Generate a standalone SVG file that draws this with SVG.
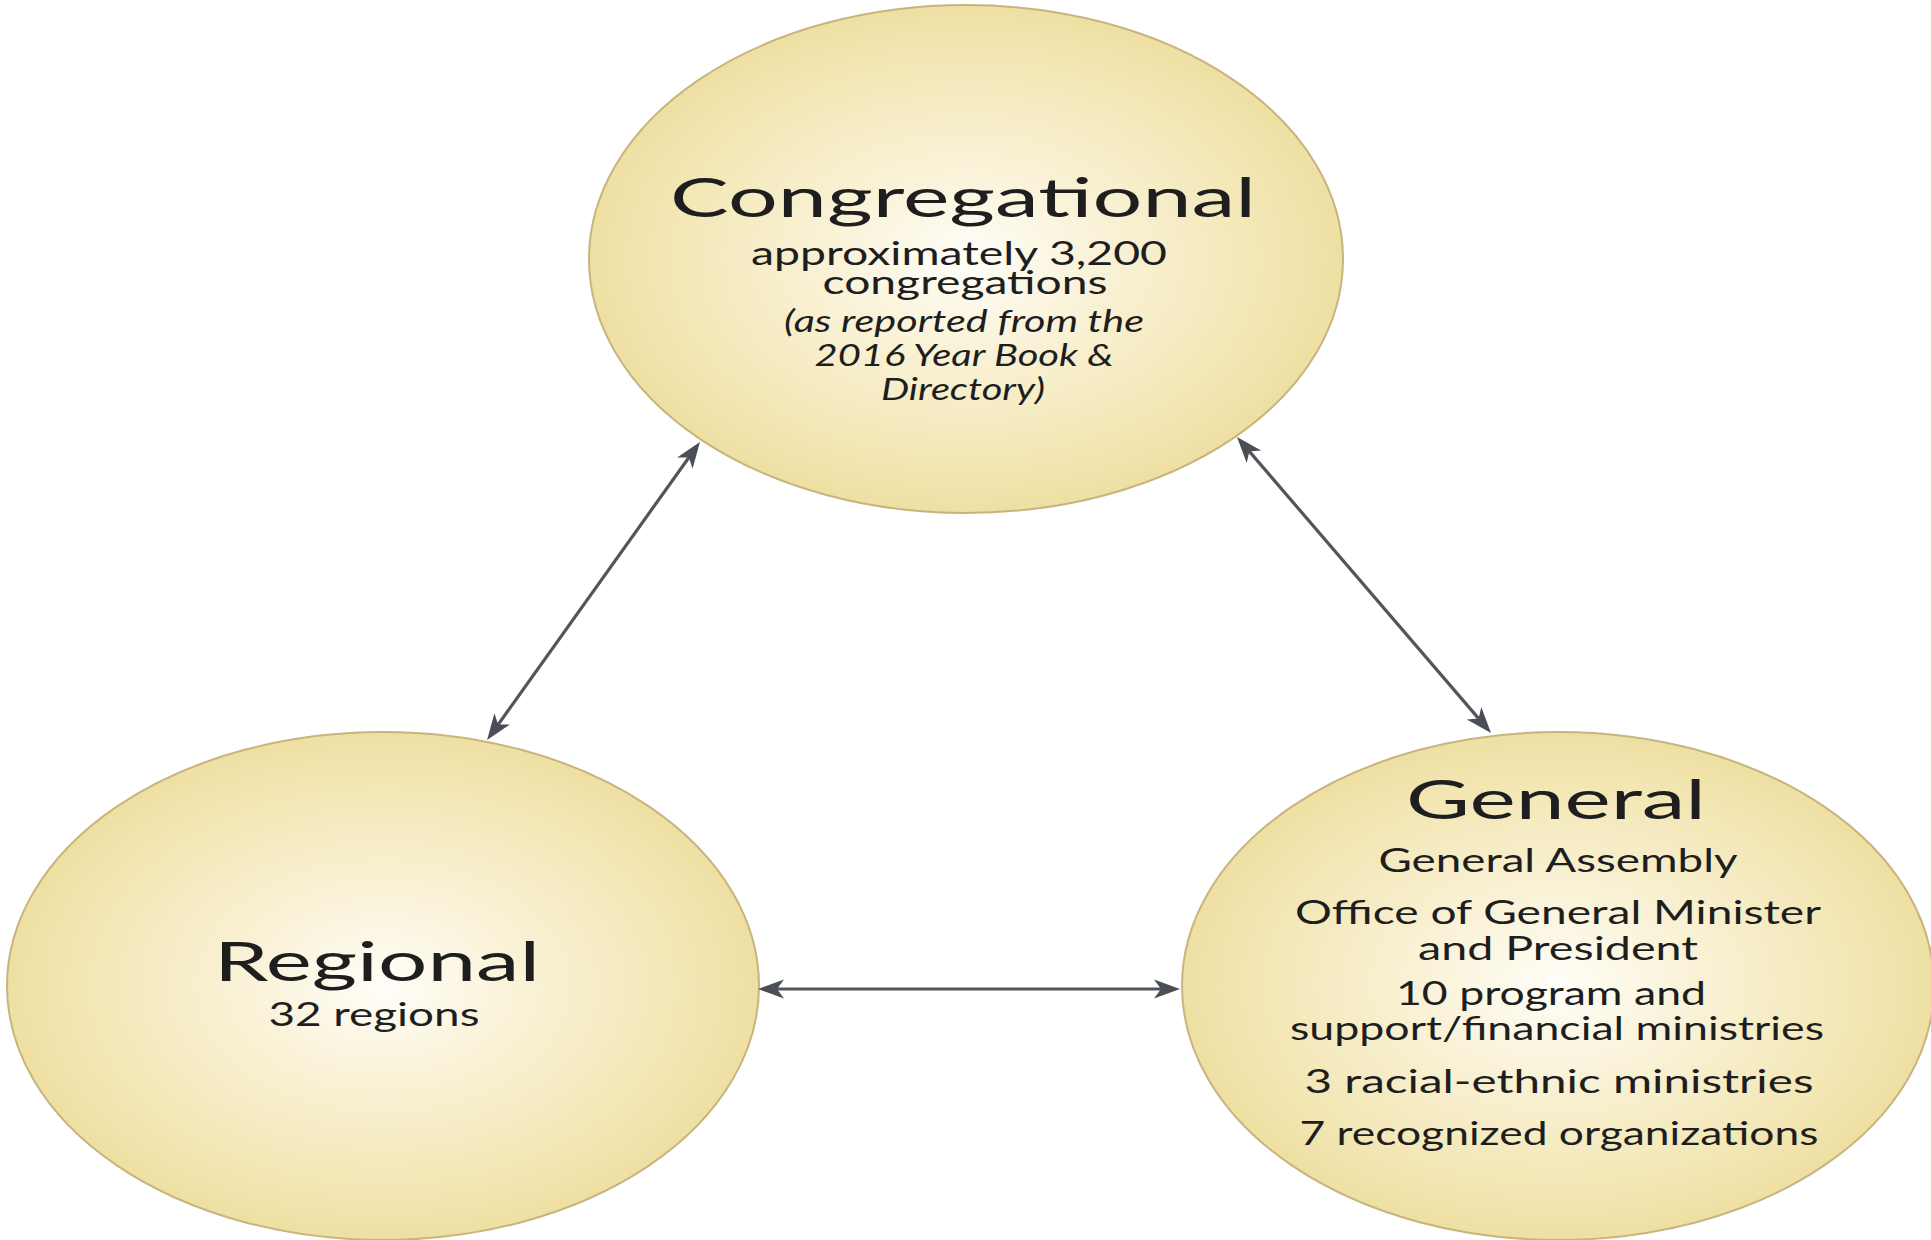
<svg xmlns="http://www.w3.org/2000/svg" width="1931" height="1240" viewBox="0 0 1931 1240">
<style>
.node{stroke:#c8b47e;stroke-width:2;fill:url(#glow)}
.t{font-family:Lato,"Open Sans","Liberation Sans",sans-serif;fill:#1e1e1e;text-anchor:middle}
.title{font-size:55px}
.body{font-size:33px}
.it{font-size:30px;font-style:italic}
.conn{stroke:#52565c;stroke-width:3.2;fill:none;marker-start:url(#arr);marker-end:url(#arr)}
</style>
<defs>
<radialGradient id="glow" cx="50%" cy="50%" r="50%">
<stop offset="0" stop-color="#fffef8"/>
<stop offset="0.4" stop-color="#f9f1d4"/>
<stop offset="0.78" stop-color="#f3e7b6"/>
<stop offset="1" stop-color="#eedfa2"/>
</radialGradient>
<marker id="arr" markerUnits="userSpaceOnUse" viewBox="-30 -12 32 24" markerWidth="32" markerHeight="24" refX="-8" refY="0" orient="auto-start-reverse">
<path d="M0,0 L-26,-9.5 L-19,0 L-26,9.5 Z" fill="#4a4e55"/>
</marker>
</defs>
<rect width="1931" height="1240" fill="#ffffff"/>
<g id="node-congregational">
<ellipse class="node" cx="966" cy="259" rx="377" ry="254"/>
<text class="t title" x="963" y="217" textLength="586" lengthAdjust="spacingAndGlyphs">Congregational</text>
<text class="t body" x="959" y="265" textLength="416" lengthAdjust="spacingAndGlyphs">approximately 3,200</text>
<text class="t body" x="965" y="294" textLength="285" lengthAdjust="spacingAndGlyphs">congregations</text>
<text class="t it" x="964" y="332" textLength="360" lengthAdjust="spacingAndGlyphs">(as reported from the</text>
<text class="t it" x="964" y="366" textLength="299" lengthAdjust="spacingAndGlyphs">2016 Year Book &amp;</text>
<text class="t it" x="963" y="400" textLength="164" lengthAdjust="spacingAndGlyphs">Directory)</text>
</g>
<g id="node-regional">
<ellipse class="node" cx="383" cy="986" rx="376" ry="254"/>
<text class="t title" x="377" y="981" textLength="326" lengthAdjust="spacingAndGlyphs">Regional</text>
<text class="t body" x="374" y="1026" textLength="211" lengthAdjust="spacingAndGlyphs">32 regions</text>
</g>
<g id="node-general">
<ellipse class="node" cx="1558" cy="986" rx="376" ry="254"/>
<text class="t title" x="1556" y="819" textLength="300" lengthAdjust="spacingAndGlyphs">General</text>
<text class="t body" x="1558" y="872" textLength="359" lengthAdjust="spacingAndGlyphs">General Assembly</text>
<text class="t body" x="1558" y="924" textLength="526" lengthAdjust="spacingAndGlyphs">Office of General Minister</text>
<text class="t body" x="1558" y="960" textLength="280" lengthAdjust="spacingAndGlyphs">and President</text>
<text class="t body" x="1551" y="1005" textLength="310" lengthAdjust="spacingAndGlyphs">10 program and</text>
<text class="t body" x="1557" y="1040" textLength="534" lengthAdjust="spacingAndGlyphs">support/financial ministries</text>
<text class="t body" x="1559" y="1093" textLength="509" lengthAdjust="spacingAndGlyphs">3 racial-ethnic ministries</text>
<text class="t body" x="1559" y="1145" textLength="519" lengthAdjust="spacingAndGlyphs">7 recognized organizations</text>
</g>
<g id="connectors">
<line class="conn" x1="695.3" y1="448.5" x2="491.7" y2="733.5"/>
<line class="conn" x1="1242.2" y1="443.1" x2="1485.8" y2="726.9"/>
<line class="conn" x1="766" y1="989" x2="1172" y2="989"/>
</g>
</svg>
